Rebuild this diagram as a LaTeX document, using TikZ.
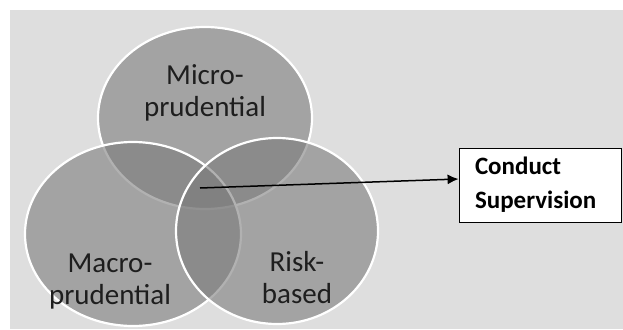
\documentclass[tikz,border=0pt]{standalone}
\usepackage{fontspec}
\setmainfont{Carlito}
\usetikzlibrary{arrows.meta}
\definecolor{bgGray}{RGB}{222,222,222}
\definecolor{setGray}{RGB}{123,123,123}
\definecolor{txtGray}{RGB}{30,30,30}

\begin{document}
\begin{tikzpicture}[x=1pt,y=-1pt,
  setfill/.style={fill=setGray,fill opacity=0.59,draw=white,line width=2.2pt},
  setlabel/.style={align=center,text=txtGray,font=\fontsize{29}{32}\selectfont},
  infobox/.style={draw=black,fill=white,line width=0.8pt,align=left,
    font=\bfseries\fontsize{25}{34}\selectfont,text width=130pt,
    inner xsep=16pt,minimum width=162pt,minimum height=74pt}]
  \useasboundingbox (0,0) rectangle (623,329);

  % grey panel
  \fill[bgGray] (10,10) rectangle (623,329);

  % the three sets
  \draw[setfill] (205,118) ellipse [x radius=107pt, y radius=91pt];
  \draw[setfill] (133,234) ellipse [x radius=108pt, y radius=92pt];
  \draw[setfill] (277,231) ellipse [x radius=101pt, y radius=93pt];

  % set labels
  \node[setlabel] (micro) at (205,93)  {Micro-\\prudential};
  \node[setlabel] (macro) at (110,282) {Macro-\\prudential};
  \node[setlabel] (risk)  at (297,278) {Risk-\\based};

  % box and arrow from the common core
  \node[infobox] (conduct) at (540,185) {Conduct\\Supervision};
  \coordinate (core) at (200,188);
  \draw[-{Latex[length=11pt,width=10pt]},line width=1.5pt]
    (core) -- ([yshift=6pt]conduct.west);
\end{tikzpicture}
\end{document}
